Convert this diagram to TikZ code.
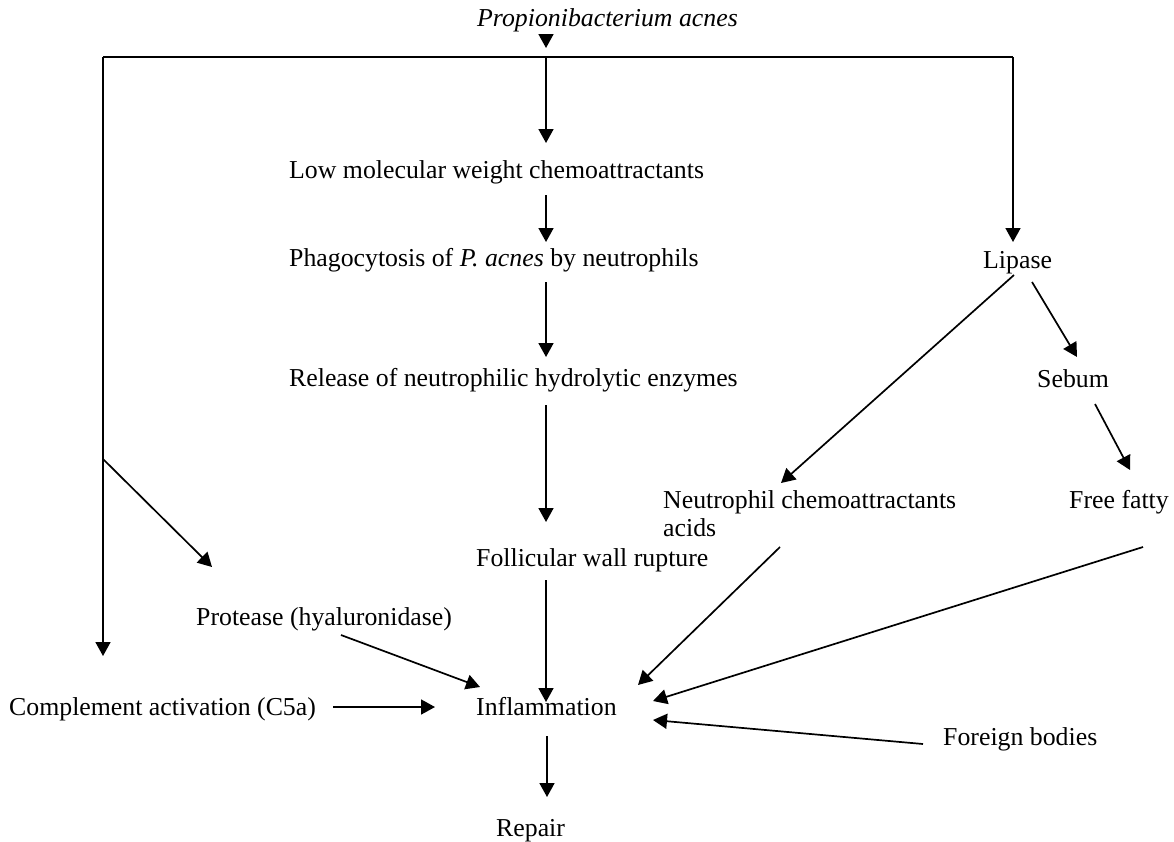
\documentclass[tikz,border=0pt]{standalone}
\usepackage{fontspec}
\setmainfont{Liberation Serif}
\usetikzlibrary{arrows.meta}
\begin{document}
\begin{tikzpicture}[x=1pt,y=-1pt,
  lbl/.style={inner sep=0pt,text height=18pt,text depth=6pt,anchor=base west,
    font=\fontsize{25.8pt}{31pt}\selectfont},
  conn/.style={line width=1.7pt},
  arr/.style={line width=1.7pt,-{Triangle[length=14pt,width=15pt]}}]
\useasboundingbox (0,0) rectangle (1174,841);
% nodes
\node[lbl,anchor=base] (prop) at (607.5,26) {\textit{Propionibacterium acnes}};
\node[lbl] (low) at (289,178) {Low molecular weight chemoattractants};
\node[lbl] (phago) at (289,266) {Phagocytosis of \textit{P. acnes} by neutrophils};
\node[lbl] (release) at (289,386) {Release of neutrophilic hydrolytic enzymes};
\node[lbl] (foll) at (476,566) {Follicular wall rupture};
\node[lbl] (infl) at (476,715) {Inflammation};
\node[lbl] (repair) at (496,836) {Repair};
\node[lbl] (lipase) at (983,268) {Lipase};
\node[lbl] (sebum) at (1037,387) {Sebum};
\node[lbl] (neut) at (663,508) {Neutrophil chemoattractants};
\node[lbl] (acids) at (663,536) {acids};
\node[lbl] (free) at (1069,508) {Free fatty};
\node[lbl] (protease) at (196,625) {Protease (hyaluronidase)};
\node[lbl] (compl) at (9,715) {Complement activation (C5a)};
\node[lbl] (foreign) at (943,745) {Foreign bodies};
% junctions
\coordinate (tl) at (103,57);
\coordinate (tr) at (1013,57);
\coordinate (tm) at (546,57);
\coordinate (br) at (103,459);
% connectors
\draw[arr] ([xshift=-61.5pt,yshift=-10pt]prop.base) -- ([yshift=9pt]tm);
\draw[conn] (tl) -- (tr);
\draw[arr] (tl) -- ([xshift=94pt,yshift=59pt]compl.base west);
\draw[arr] (tr) -- ([xshift=30pt,yshift=26pt]lipase.base west);
\draw[arr] (tm) -- ([xshift=257pt,yshift=35pt]low.base west);
\draw[arr] ([xshift=257pt,yshift=-17pt]low.base west) -- ([xshift=257pt,yshift=24pt]phago.base west);
\draw[arr] ([xshift=257pt,yshift=-16pt]phago.base west) -- ([xshift=257pt,yshift=29pt]release.base west);
\draw[arr] ([xshift=257pt,yshift=-19pt]release.base west) -- ([xshift=70pt,yshift=44pt]foll.base west);
\draw[arr] ([xshift=70pt,yshift=-14pt]foll.base west) -- ([xshift=70pt,yshift=13pt]infl.base west);
\draw[arr] ([xshift=71pt,yshift=-21pt]infl.base west) -- ([xshift=51pt,yshift=39pt]repair.base west);
\draw[arr] ([xshift=31pt,yshift=-7pt]lipase.base west) -- ([xshift=118pt,yshift=25pt]neut.base west);
\draw[arr] ([xshift=49pt,yshift=-14pt]lipase.base west) -- ([xshift=40pt,yshift=30pt]sebum.base west);
\draw[arr] ([xshift=58pt,yshift=-17pt]sebum.base west) -- ([xshift=61pt,yshift=38pt]free.base west);
\draw[arr] ([xshift=117pt,yshift=-11pt]acids.base west) -- ([xshift=162pt,yshift=30pt]infl.base west);
\draw[arr] ([xshift=74pt,yshift=-39pt]free.base west) -- ([xshift=177pt,yshift=14pt]infl.base west);
\draw[arr] ([xshift=-20pt,yshift=1pt]foreign.base west) -- ([xshift=177pt,yshift=-5pt]infl.base west);
\draw[arr] (br) -- ([xshift=16pt,yshift=58pt]protease.base west);
\draw[arr] ([xshift=145pt,yshift=-10pt]protease.base west) -- ([xshift=4pt,yshift=28pt]infl.base west);
\draw[arr] ([xshift=324pt,yshift=8pt]compl.base west) -- ([xshift=-41pt,yshift=8pt]infl.base west);
\end{tikzpicture}
\end{document}
